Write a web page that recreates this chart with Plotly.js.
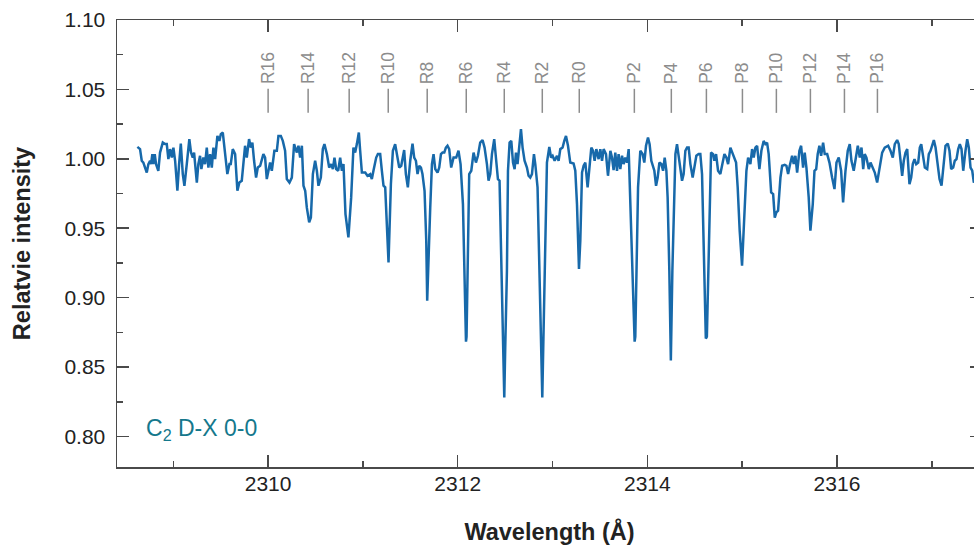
<!DOCTYPE html>
<html>
<head>
<meta charset="utf-8">
<script src="https://cdn.plot.ly/plotly-3.0.1.min.js"></script>
<style>
html,body{margin:0;padding:0;overflow:hidden;background:#fff;}
#chart{width:990px;height:546px;}
</style>
</head>
<body>
<div id="chart"></div>
<script>
// Wavelength (Å) of each sample of the spectrum
const wavelength = [
2308.621,2308.649,2308.667,2308.684,2308.702,2308.720,2308.737,2308.755,2308.765,2308.779,
2308.789,2308.804,2308.818,2308.842,2308.860,2308.889,2308.913,2308.931,2308.948,2308.966,
2308.984,2309.001,2309.019,2309.043,2309.061,2309.079,2309.100,2309.117,2309.142,2309.169,
2309.187,2309.205,2309.219,2309.248,2309.264,2309.282,2309.296,2309.317,2309.335,2309.353,
2309.370,2309.388,2309.406,2309.423,2309.441,2309.465,2309.486,2309.501,2309.522,2309.539,
2309.570,2309.592,2309.606,2309.627,2309.652,2309.676,2309.697,2309.722,2309.739,2309.757,
2309.775,2309.799,2309.817,2309.834,2309.852,2309.873,2309.891,2309.916,2309.950,2309.968,
2309.986,2310.003,2310.021,2310.039,2310.066,2310.092,2310.109,2310.134,2310.155,2310.179,
2310.197,2310.225,2310.250,2310.274,2310.303,2310.320,2310.338,2310.356,2310.373,2310.391,
2310.408,2310.433,2310.451,2310.472,2310.496,2310.514,2310.531,2310.556,2310.577,2310.594,
2310.620,2310.644,2310.665,2310.683,2310.700,2310.718,2310.739,2310.760,2310.778,2310.795,
2310.816,2310.847,2310.876,2310.900,2310.918,2310.936,2310.957,2310.971,2310.989,2311.024,
2311.048,2311.077,2311.094,2311.111,2311.140,2311.158,2311.182,2311.200,2311.217,2311.235,
2311.253,2311.270,2311.295,2311.316,2311.340,2311.358,2311.383,2311.404,2311.417,2311.435,
2311.453,2311.474,2311.499,2311.523,2311.541,2311.559,2311.576,2311.594,2311.612,2311.628,
2311.650,2311.668,2311.678,2311.692,2311.710,2311.728,2311.745,2311.763,2311.787,2311.805,
2311.823,2311.840,2311.858,2311.875,2311.892,2311.910,2311.931,2311.956,2311.984,2312.008,
2312.030,2312.055,2312.072,2312.087,2312.093,2312.103,2312.121,2312.143,2312.167,2312.192,
2312.213,2312.237,2312.262,2312.283,2312.308,2312.325,2312.343,2312.361,2312.385,2312.406,
2312.424,2312.441,2312.462,2312.480,2312.491,2312.501,2312.519,2312.530,2312.547,2312.565,
2312.583,2312.600,2312.614,2312.631,2312.649,2312.667,2312.684,2312.705,2312.730,2312.747,
2312.765,2312.783,2312.804,2312.818,2312.842,2312.860,2312.881,2312.892,2312.902,2312.918,
2312.931,2312.941,2312.966,2312.984,2313.001,2313.022,2313.047,2313.064,2313.082,2313.106,
2313.124,2313.142,2313.163,2313.187,2313.222,2313.240,2313.258,2313.279,2313.293,2313.311,
2313.328,2313.346,2313.370,2313.391,2313.409,2313.427,2313.444,2313.462,2313.486,2313.504,
2313.522,2313.539,2313.564,2313.585,2313.610,2313.627,2313.644,2313.662,2313.680,2313.697,
2313.715,2313.733,2313.750,2313.768,2313.786,2313.803,2313.821,2313.847,2313.866,2313.873,
2313.887,2313.902,2313.926,2313.950,2313.968,2313.986,2314.007,2314.024,2314.042,2314.074,
2314.092,2314.109,2314.127,2314.148,2314.166,2314.183,2314.201,2314.214,2314.232,2314.248,
2314.264,2314.280,2314.296,2314.313,2314.338,2314.366,2314.383,2314.401,2314.419,2314.436,
2314.454,2314.478,2314.496,2314.517,2314.541,2314.559,2314.577,2314.596,2314.617,2314.628,
2314.647,2314.672,2314.693,2314.707,2314.725,2314.746,2314.770,2314.788,2314.813,2314.834,
2314.852,2314.876,2314.894,2314.911,2314.936,2314.953,2314.974,2314.999,2315.024,2315.045,
2315.063,2315.087,2315.105,2315.122,2315.140,2315.158,2315.182,2315.203,2315.227,2315.245,
2315.263,2315.280,2315.306,2315.327,2315.344,2315.361,2315.379,2315.404,2315.422,2315.449,
2315.467,2315.485,2315.502,2315.527,2315.544,2315.562,2315.580,2315.604,2315.622,2315.643,
2315.660,2315.678,2315.702,2315.720,2315.745,2315.763,2315.781,2315.797,2315.815,2315.833,
2315.854,2315.871,2315.897,2315.921,2315.949,2315.974,2315.995,2316.019,2316.044,2316.065,
2316.090,2316.114,2316.135,2316.153,2316.177,2316.203,2316.220,2316.241,2316.259,2316.277,
2316.293,2316.311,2316.336,2316.354,2316.378,2316.399,2316.424,2316.449,2316.477,2316.504,
2316.540,2316.565,2316.589,2316.610,2316.635,2316.652,2316.670,2316.688,2316.705,2316.723,
2316.741,2316.765,2316.783,2316.800,2316.818,2316.836,2316.857,2316.874,2316.889,2316.906,
2316.927,2316.952,2316.969,2316.987,2317.005,2317.022,2317.040,2317.058,2317.082,2317.103,
2317.127,2317.145,2317.169,2317.187,2317.205,2317.226,2317.243,2317.261,2317.279,2317.296,
2317.314,2317.332,2317.356,2317.374,2317.391,2317.409,2317.427,2317.444,2317.472,2317.514
];

// Relative intensity of each sample
const intensity = [
1.0086,1.0070,0.9986,0.9973,0.9937,0.9901,0.9962,0.9986,0.9962,1.0034,
0.9962,1.0034,0.9962,0.9914,1.0045,1.0117,1.0106,1.0106,0.9998,1.0070,
1.0009,1.0081,0.9986,0.9770,0.9962,1.0110,0.9890,0.9806,0.9962,1.0142,
1.0045,1.0009,1.0045,0.9829,0.9962,1.0022,0.9926,1.0009,0.9962,1.0081,
0.9937,1.0034,0.9937,1.0081,0.9998,1.0165,1.0129,1.0178,1.0189,1.0081,
0.9890,0.9962,0.9962,1.0070,1.0034,0.9770,0.9829,0.9842,0.9962,1.0094,
1.0009,1.0142,1.0081,1.0117,0.9986,0.9865,0.9937,0.9950,1.0034,1.0009,
0.9854,0.9926,0.9973,0.9914,1.0058,1.0058,1.0165,1.0165,1.0129,1.0058,
0.9854,0.9829,0.9865,1.0106,1.0045,1.0094,1.0009,1.0094,0.9806,0.9770,
0.9650,0.9542,0.9578,0.9890,0.9986,0.9914,0.9806,0.9865,1.0070,1.0106,
1.0034,0.9937,0.9962,0.9926,1.0009,0.9926,0.9914,1.0009,0.9914,0.9962,
0.9602,0.9434,0.9722,1.0081,1.0045,1.0106,1.0189,1.0058,0.9901,0.9901,
0.9878,0.9890,0.9854,0.9914,1.0009,1.0034,1.0034,0.9914,0.9806,0.9794,
0.9554,0.9254,0.9818,1.0058,1.0106,1.0045,0.9937,0.9950,0.9998,1.0063,
0.9890,0.9794,0.9986,1.0110,1.0009,0.9986,0.9890,0.9950,0.9937,0.9890,
0.9770,0.9410,0.8978,0.9338,0.9650,0.9962,1.0034,0.9926,0.9901,0.9937,
1.0034,1.0045,1.0045,1.0081,1.0094,1.0070,0.9937,1.0009,1.0009,1.0058,
0.9962,0.9674,0.9122,0.8683,0.8719,0.9194,0.9890,0.9914,1.0045,0.9973,
1.0022,1.0117,1.0135,1.0081,0.9962,0.9842,0.9890,1.0034,1.0142,0.9986,
0.9854,0.9842,0.9194,0.8640,0.8281,0.8640,0.9194,0.9914,1.0117,1.0129,
0.9973,0.9926,1.0045,0.9962,1.0094,1.0214,1.0081,0.9986,0.9937,0.9878,
0.9865,0.9890,1.0034,0.9962,0.9794,0.9266,0.8640,0.8281,0.8640,0.9266,
0.9794,0.9973,1.0086,1.0009,1.0022,0.9986,1.0022,0.9986,1.0070,1.0081,
1.0129,1.0165,1.0094,0.9973,0.9966,0.9914,0.9674,0.9206,0.9410,0.9901,
0.9950,0.9973,0.9794,0.9973,1.0081,1.0058,0.9986,1.0070,0.9998,1.0070,
0.9986,1.0070,1.0034,0.9878,1.0058,1.0009,0.9919,1.0045,0.9914,1.0034,
0.9926,1.0022,0.9962,1.0009,0.9973,1.0070,0.9650,0.9122,0.8683,0.8719,
0.9194,0.9794,1.0058,1.0034,0.9973,1.0094,1.0153,1.0106,0.9986,0.9914,
0.9806,0.9865,0.9973,0.9962,0.9914,1.0009,0.9914,0.9722,0.9194,0.8547,
0.9194,0.9698,1.0034,1.0106,0.9962,0.9842,0.9890,1.0058,1.0081,1.0081,
0.9962,0.9865,0.9937,1.0022,1.0034,1.0034,0.9890,0.9338,0.8705,0.8719,
0.9338,1.0045,1.0034,0.9986,1.0034,0.9914,0.9890,0.9962,1.0034,1.0009,
0.9962,1.0081,1.0045,1.0009,0.9973,0.9794,0.9482,0.9230,0.9554,0.9914,
1.0009,0.9962,1.0070,1.0009,1.0081,1.0094,0.9926,1.0058,1.0129,1.0106,
1.0117,1.0034,0.9758,0.9746,0.9576,0.9614,0.9626,0.9865,0.9950,0.9957,
0.9950,0.9890,0.9950,1.0022,0.9962,1.0022,0.9901,1.0058,1.0094,0.9937,
1.0045,0.9937,0.9722,0.9482,0.9674,0.9914,0.9926,1.0034,1.0094,1.0022,
1.0117,1.0034,1.0034,0.9973,0.9865,0.9782,0.9973,1.0009,0.9914,0.9686,
0.9914,1.0058,1.0106,0.9986,0.9914,1.0022,1.0094,1.0009,1.0081,0.9926,
1.0034,1.0009,0.9926,0.9973,0.9937,0.9901,0.9829,0.9937,1.0045,1.0081,
1.0094,1.0058,1.0009,1.0106,1.0135,1.0106,0.9986,0.9878,0.9986,1.0045,
1.0070,0.9818,0.9865,0.9962,0.9998,0.9962,0.9973,1.0081,1.0106,1.0034,
0.9937,0.9926,1.0034,1.0058,1.0106,1.0135,1.0081,0.9986,0.9854,0.9806,
0.9962,1.0094,1.0110,1.0058,0.9926,0.9937,0.9986,0.9998,1.0070,1.0106,
1.0070,0.9914,1.0058,1.0142,1.0081,0.9937,0.9914,0.9829,0.9878,0.9986
];

// Line identifications (R and P branch) and their wavelengths (Å)
const lineLabels = ["R16","R14","R12","R10","R8","R6","R4","R2","R0",
                    "P2","P4","P6","P8","P10","P12","P14","P16"];
const lineWavelengths = [2310.000,2310.422,2310.855,2311.267,2311.678,2312.090,2312.491,2312.892,2313.282,
                         2313.863,2314.253,2314.623,2315.003,2315.361,2315.720,2316.079,2316.427];

const xTickVals = [2310,2312,2314,2316];
const xTickText = ["2310","2312","2314","2316"];
const yTickVals = [0.80,0.85,0.90,0.95,1.00,1.05,1.10];
const yTickText = ["0.80","0.85","0.90","0.95","1.00","1.05","1.10"];

const FONT = '"Liberation Sans", Arial, Helvetica, sans-serif';
const labelGray = '#8c8c8c';

const shapes = lineWavelengths.map(w => ({
  type: 'line', xref: 'x', yref: 'y',
  x0: w, x1: w, y0: 1.0331, y1: 1.0504,
  line: {color: labelGray, width: 1.5}
}));

const annotations = lineLabels.map((t, i) => ({
  x: lineWavelengths[i], y: 1.0525, xref: 'x', yref: 'y',
  text: t, showarrow: false, textangle: -90,
  xanchor: 'center', yanchor: 'bottom',
  font: {family: FONT, size: 17.5, color: labelGray}
}));

annotations.push({
  x: 2308.69, y: 0.805, xref: 'x', yref: 'y',
  text: 'C<sub>2</sub> D-X 0-0', showarrow: false,
  xanchor: 'left', yanchor: 'middle',
  font: {family: FONT, size: 23, color: '#14788c'}
});

const trace = {
  x: wavelength, y: intensity, type: 'scatter', mode: 'lines',
  line: {color: '#1769aa', width: 2.5},
  hoverinfo: 'skip'
};

const axisCommon = {
  showline: true, linecolor: '#4a4a4a', linewidth: 1.5,
  mirror: 'ticks', ticks: 'inside', ticklen: 12, tickwidth: 1.5, tickcolor: '#4a4a4a',
  showgrid: false, zeroline: false,
  tickfont: {family: FONT, size: 21, color: '#222'}
};

const layout = {
  width: 990, height: 546,
  margin: {l: 117, r: 8, t: 20, b: 79},
  paper_bgcolor: '#fff', plot_bgcolor: '#fff',
  showlegend: false,
  xaxis: Object.assign({}, axisCommon, {
    range: [2308.406, 2317.530],
    tickmode: 'array', tickvals: xTickVals, ticktext: xTickText,
    minor: {dtick: 1, tick0: 2309, ticks: 'inside', ticklen: 6, tickwidth: 1.5, tickcolor: '#4a4a4a', showgrid: false},
    ticklabelstandoff: -3,
    title: {text: 'Wavelength (Å)', standoff: 30, font: {family: FONT, size: 23.5, color: '#222', weight: 'bold'}}
  }),
  yaxis: Object.assign({}, axisCommon, {
    range: [0.778, 1.10],
    tickmode: 'array', tickvals: yTickVals, ticktext: yTickText,
    minor: {dtick: 0.025, tick0: 0.775, ticks: 'inside', ticklen: 6, tickwidth: 1.5, tickcolor: '#4a4a4a', showgrid: false},
    ticklabelstandoff: 6,
    title: {text: 'Relatvie intensity', standoff: 27, font: {family: FONT, size: 23.5, color: '#222', weight: 'bold'}}
  }),
  shapes: shapes,
  annotations: annotations
};

Plotly.newPlot('chart', [trace], layout, {staticPlot: true, displayModeBar: false});
</script>
</body>
</html>
